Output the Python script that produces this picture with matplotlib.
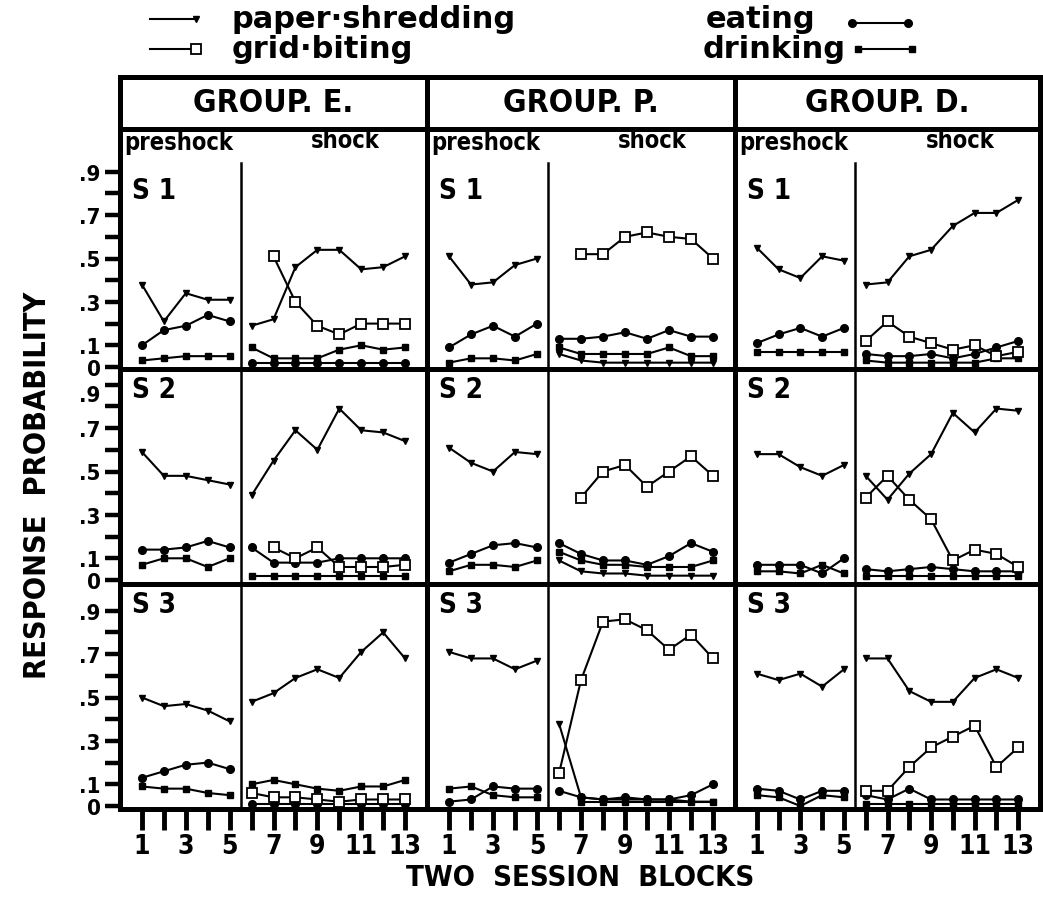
import numpy as np
import matplotlib.pyplot as plt
from matplotlib.lines import Line2D

plt.rcParams['font.family'] = ['DejaVu Sans']
plt.rcParams['font.weight'] = 'bold'
plt.rcParams['font.stretch'] = 'condensed'

nan = np.nan

groups = ['GROUP. E.', 'GROUP. P.', 'GROUP. D.']
subjects = ['S 1', 'S 2', 'S 3']
blocks = np.arange(1, 14)
xtick_labels = ['1', '', '3', '', '5', '', '7', '', '9', '', '11', '', '13']
ytick_vals = [0, .1, .2, .3, .4, .5, .6, .7, .8, .9]
ytick_labels = ['0', '.1', '', '.3', '', '.5', '', '.7', '', '.9']

# response probability, blocks 1-5 preshock, 6-13 shock
# group E
paper_e1 = [.38, .21, .34, .31, .31, .19, .22, .46, .54, .54, .45, .46, .51]
grid_e1 = [nan, nan, nan, nan, nan, nan, .51, .30, .19, .15, .20, .20, .20]
eat_e1 = [.10, .17, .19, .24, .21, .02, .02, .02, .02, .02, .02, .02, .02]
drink_e1 = [.03, .04, .05, .05, .05, .09, .04, .04, .04, .08, .10, .08, .09]

paper_e2 = [.59, .48, .48, .46, .44, .39, .55, .69, .60, .79, .69, .68, .64]
grid_e2 = [nan, nan, nan, nan, nan, nan, .15, .10, .15, .06, .06, .06, .07]
eat_e2 = [.14, .14, .15, .18, .15, .15, .08, .08, .08, .10, .10, .10, .10]
drink_e2 = [.07, .10, .10, .06, .10, .02, .02, .02, .02, .02, .02, .02, .02]

paper_e3 = [.50, .46, .47, .44, .39, .48, .52, .59, .63, .59, .71, .80, .68]
grid_e3 = [nan, nan, nan, nan, nan, .06, .04, .04, .03, .02, .03, .03, .03]
eat_e3 = [.13, .16, .19, .20, .17, .01, .01, .01, .01, .01, .01, .01, .01]
drink_e3 = [.09, .08, .08, .06, .05, .10, .12, .10, .08, .07, .09, .09, .12]

# group P
paper_p1 = [.51, .38, .39, .47, .50, .06, .03, .02, .02, .02, .02, .02, .02]
grid_p1 = [nan, nan, nan, nan, nan, nan, .52, .52, .60, .62, .60, .59, .50]
eat_p1 = [.09, .15, .19, .14, .20, .13, .13, .14, .16, .13, .17, .14, .14]
drink_p1 = [.02, .04, .04, .03, .06, .09, .06, .06, .06, .06, .09, .05, .05]

paper_p2 = [.61, .54, .50, .59, .58, .09, .04, .03, .03, .02, .02, .02, .02]
grid_p2 = [nan, nan, nan, nan, nan, nan, .38, .50, .53, .43, .50, .57, .48]
eat_p2 = [.08, .12, .16, .17, .15, .17, .12, .09, .09, .07, .11, .17, .13]
drink_p2 = [.04, .07, .07, .06, .09, .13, .09, .07, .07, .06, .06, .06, .09]

paper_p3 = [.71, .68, .68, .63, .67, .38, .04, .03, .03, .03, .03, .02, .02]
grid_p3 = [nan, nan, nan, nan, nan, .15, .58, .85, .86, .81, .72, .79, .68]
eat_p3 = [.02, .03, .09, .08, .08, .07, .04, .03, .04, .03, .03, .05, .10]
drink_p3 = [.08, .09, .05, .04, .04, nan, .02, .02, .02, .02, .02, .02, .02]

# group D
paper_d1 = [.55, .45, .41, .51, .49, .38, .39, .51, .54, .65, .71, .71, .77]
grid_d1 = [nan, nan, nan, nan, nan, .12, .21, .14, .11, .08, .10, .05, .07]
eat_d1 = [.11, .15, .18, .14, .18, .06, .05, .05, .06, .04, .06, .09, .12]
drink_d1 = [.07, .07, .07, .07, .07, .03, .02, .02, .02, .02, .02, .04, .04]

paper_d2 = [.58, .58, .52, .48, .53, .48, .37, .49, .58, .77, .68, .79, .78]
grid_d2 = [nan, nan, nan, nan, nan, .38, .48, .37, .28, .09, .14, .12, .06]
eat_d2 = [.07, .07, .07, .03, .10, .05, .04, .05, .06, .05, .04, .04, .04]
drink_d2 = [.04, .04, .03, .07, .03, .02, .02, .02, .02, .02, .02, .02, .02]

paper_d3 = [.61, .58, .61, .55, .63, .68, .68, .53, .48, .48, .59, .63, .59]
grid_d3 = [nan, nan, nan, nan, nan, .07, .07, .18, .27, .32, .37, .18, .27]
eat_d3 = [.08, .07, .03, .07, .07, .05, .03, .08, .03, .03, .03, .03, .03]
drink_d3 = [.05, .04, .00, .05, .04, .01, .01, .01, .01, .01, .01, .01, .01]

panels = [
    [(paper_e1, grid_e1, eat_e1, drink_e1), (paper_p1, grid_p1, eat_p1, drink_p1), (paper_d1, grid_d1, eat_d1, drink_d1)],
    [(paper_e2, grid_e2, eat_e2, drink_e2), (paper_p2, grid_p2, eat_p2, drink_p2), (paper_d2, grid_d2, eat_d2, drink_d2)],
    [(paper_e3, grid_e3, eat_e3, drink_e3), (paper_p3, grid_p3, eat_p3, drink_p3), (paper_d3, grid_d3, eat_d3, drink_d3)],
]

styles = [
    dict(marker='v', ms=5, mfc='k', zorder=3),
    dict(marker='s', ms=6.5, mfc='white', mew=1.3, zorder=4),
    dict(marker='o', ms=5.5, mfc='k', zorder=3),
    dict(marker='s', ms=5, mfc='k', zorder=3),
]

# layout in pixels
W, H = 1043, 903
col_edges = [120, 427, 735, 1040]
row_edges = [130, 370, 585, 810]
head_top = 78
zero_px = [368, 581, 807]
ppu = 217.0
div_top = [0.94, None, None]

fig = plt.figure(figsize=(W / 100, H / 100), dpi=100)


def fx(px):
    return px / W


def fy(py):
    return 1 - py / H


for r in range(3):
    top, bot = row_edges[r], row_edges[r + 1]
    for c in range(3):
        left, right = col_edges[c], col_edges[c + 1]
        ax = fig.add_axes([fx(left), fy(bot), (right - left) / W, (bot - top) / H])
        ax.set_facecolor('none')
        ax.set_xlim(0, 14)
        y0 = -(bot - zero_px[r]) / ppu
        y1 = (zero_px[r] - top) / ppu
        ax.set_ylim(y0, y1)
        for s in ax.spines.values():
            s.set_visible(False)

        for vals, st in zip(panels[r][c], styles):
            vals = np.array(vals, dtype=float)
            ax.plot(blocks[:5], vals[:5], color='k', lw=1.5, mec='k', **st)
            ax.plot(blocks[5:], vals[5:], color='k', lw=1.5, mec='k', **st)

        dtop = div_top[r] if div_top[r] is not None else y1
        ax.plot([5.5, 5.5], [y0, dtop], color='k', lw=1.8)

        if c == 0:
            ax.set_yticks(ytick_vals)
            labs = ax.set_yticklabels(ytick_labels)
            ax.tick_params(axis='y', direction='out', length=11, width=3.2, pad=3,
                           labelsize=16)
            if r == 1:
                # keep the top label clear of the "0" of the row above
                labs[-1].set_va('top')
        else:
            ax.set_yticks([])
        if r == 2:
            ax.set_xticks(blocks)
            ax.set_xticklabels(xtick_labels)
            ax.tick_params(axis='x', direction='out', length=15, width=3.5, pad=2,
                           labelsize=19)
        else:
            ax.set_xticks([])

        ax.text(0.55, y1 - (row_edges[r] == 130) * 0.19 - 0.09, subjects[r],
                fontsize=20, fontweight='bold', ha='left', va='center')

# frame
for y in [head_top] + row_edges:
    fig.add_artist(Line2D([fx(col_edges[0]), fx(col_edges[-1])], [fy(y), fy(y)],
                          color='k', lw=3.6, solid_capstyle='projecting'))
for x in col_edges:
    fig.add_artist(Line2D([fx(x), fx(x)], [fy(head_top), fy(row_edges[-1])],
                          color='k', lw=3.6, solid_capstyle='projecting'))

# group headers and phase labels
for c in range(3):
    left, right = col_edges[c], col_edges[c + 1]
    fig.text(fx((left + right) / 2), fy(103), groups[c], fontsize=23,
             fontweight='bold', ha='center', va='center')
    fig.text(fx(left + 4), fy(143), 'preshock', fontsize=17, fontweight='bold',
             ha='left', va='center')
    fig.text(fx(left + 225), fy(141), 'shock', fontsize=17, fontweight='bold',
             ha='center', va='center')

# legend
leg_font = dict(fontsize=22, ha='left', va='center', fontstretch='normal')
fig.text(fx(232), fy(19), 'paper\u00b7shredding', **leg_font)
fig.text(fx(232), fy(49), 'grid\u00b7biting', **leg_font)
fig.text(fx(706), fy(19), 'eating', **leg_font)
fig.text(fx(703), fy(49), 'drinking', **leg_font)
legend_samples = [
    ([150, 196], 20, styles[0], [1]),
    ([150, 196], 50, styles[1], [1]),
    ([852, 908], 24, styles[2], [0, 1]),
    ([858, 912], 50, styles[3], [0, 1]),
]
for xs, y, st, ends in legend_samples:
    st = dict(st)
    st.pop('zorder')
    fig.add_artist(Line2D([fx(xs[0]), fx(xs[1])], [fy(y), fy(y)], color='k', lw=1.5,
                          mec='k', markevery=ends, **st))

fig.text(fx(38), fy(485), 'RESPONSE  PROBABILITY', rotation=90, fontsize=22,
         fontweight='bold', ha='center', va='center')
fig.text(fx(580), fy(878), 'TWO  SESSION  BLOCKS', fontsize=21, fontweight='bold',
         ha='center', va='center')

fig.savefig('out.png', dpi=100)
